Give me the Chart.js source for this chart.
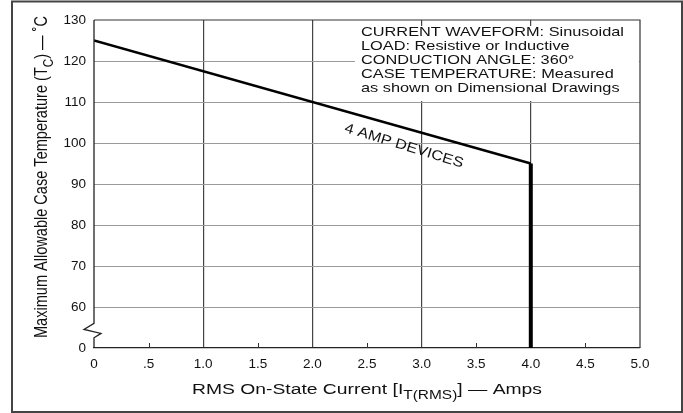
<!DOCTYPE html>
<html>
<head>
<meta charset="utf-8">
<script src="https://cdn.jsdelivr.net/npm/chart.js@4/dist/chart.umd.min.js"></script>
<style>
  body { margin: 0; background: #fff; }
  canvas { display: block; }
</style>
</head>
<body>
<canvas id="chart" width="683" height="413"></canvas>
<script>
// values
const currentTickLabels = ["0", ".5", "1.0", "1.5", "2.0", "2.5", "3.0", "3.5", "4.0", "4.5", "5.0"];
const tempTickValues = [50, 60, 70, 80, 90, 100, 110, 120, 130];
const tempTickLabels = ["0", "60", "70", "80", "90", "100", "110", "120", "130"];
// the axis is broken between 0 and 60, so the "0" row sits at 50 on the scale
const curveCurrent = [0, 4.0];
const curveTemp = [125, 95];
const dropCurrent = [4.0, 4.0];
const dropTemp = [95, 50];
const noteLines = [
  "CURRENT WAVEFORM: Sinusoidal",
  "LOAD: Resistive or Inductive",
  "CONDUCTION ANGLE: 360°",
  "CASE TEMPERATURE: Measured",
  "as shown on Dimensional Drawings"
];

const FONT = '"Liberation Sans", Arial, Helvetica, sans-serif';

function toPoints(xs, ys) {
  return xs.map((x, i) => ({ x: x, y: ys[i] }));
}

// draws text runs, some of them lowered as subscripts
function drawRuns(ctx, runs, size) {
  let x = 0;
  runs.forEach((r) => {
    const s = r.sub ? size * 0.8 : size;
    ctx.font = s + "px " + FONT;
    ctx.fillText(r.t, x, r.sub ? size * 0.3 : 0);
    x += ctx.measureText(r.t).width;
  });
  return x;
}

function runsWidth(ctx, runs, size) {
  let w = 0;
  runs.forEach((r) => {
    ctx.font = (r.sub ? size * 0.8 : size) + "px " + FONT;
    w += ctx.measureText(r.t).width;
  });
  return w;
}

const decorations = {
  id: "decorations",
  beforeDatasetsDraw(chart) {
    const ctx = chart.ctx;
    const area = chart.chartArea;
    const y = chart.scales.y;
    // white note box covering the grid
    ctx.save();
    ctx.fillStyle = "#fff";
    ctx.fillRect(355, area.top + 6, area.right - 1 - 355, y.getPixelForValue(110) - 1 - (area.top + 6));
    ctx.restore();
  },
  afterDraw(chart) {
    const ctx = chart.ctx;
    const area = chart.chartArea;
    const xs = chart.scales.x;
    const ys = chart.scales.y;
    ctx.save();

    // top and right plot borders
    ctx.strokeStyle = "#333";
    ctx.lineWidth = 1.2;
    ctx.beginPath();
    ctx.moveTo(area.left, area.top);
    ctx.lineTo(area.right, area.top);
    ctx.lineTo(area.right, area.bottom);
    ctx.stroke();

    // left axis with break between 0 and 60
    const lx = area.left;
    const gapTop = ys.getPixelForValue(56);
    const gapBottom = ys.getPixelForValue(52.5);
    ctx.strokeStyle = "#222";
    ctx.lineWidth = 1.3;
    ctx.beginPath();
    ctx.moveTo(lx, area.top);
    ctx.lineTo(lx, gapTop);
    ctx.lineTo(lx - 10, gapTop + 6);
    ctx.lineTo(lx + 7, gapTop + 10);
    ctx.lineTo(lx, gapBottom);
    ctx.lineTo(lx, area.bottom);
    ctx.stroke();

    // small inside ticks at the half amps
    ctx.strokeStyle = "#333";
    ctx.lineWidth = 1;
    [0.5, 1.5, 2.5, 3.5, 4.5].forEach((v) => {
      const px = Math.round(xs.getPixelForValue(v)) + 0.5;
      ctx.beginPath();
      ctx.moveTo(px, area.bottom);
      ctx.lineTo(px, area.bottom - 5);
      ctx.stroke();
    });

    ctx.fillStyle = "#111";
    ctx.textBaseline = "alphabetic";
    ctx.textAlign = "left";

    // y title, rotated and condensed
    const yRuns = [
      { t: "Maximum Allowable Case Temperature (T" },
      { t: "C", sub: true },
      { t: ") — ˚C" }
    ];
    const ySize = 18.5;
    const yLen = 322;
    const yw = runsWidth(ctx, yRuns, ySize);
    ctx.save();
    ctx.translate(47, 338);
    ctx.rotate(-Math.PI / 2);
    ctx.scale(yLen / yw, 1);
    drawRuns(ctx, yRuns, ySize);
    ctx.restore();

    // x title, a little wider than the stock font
    const xRuns = [
      { t: "RMS On-State Current [I" },
      { t: "T(RMS)", sub: true },
      { t: "] — Amps" }
    ];
    const xSize = 15.5;
    const xLen = 350;
    const xw = runsWidth(ctx, xRuns, xSize);
    ctx.save();
    ctx.translate(367 - xLen / 2, 394);
    ctx.scale(xLen / xw, 1);
    drawRuns(ctx, xRuns, xSize);
    ctx.restore();

    // note box text, stretched to the box width
    ctx.font = "13.5px " + FONT;
    const noteScale = 263 / ctx.measureText(noteLines[0]).width;
    ctx.save();
    ctx.translate(361, 0);
    ctx.scale(noteScale, 1);
    noteLines.forEach((line, i) => {
      ctx.fillText(line, 0, 36 + i * 13.9);
    });
    ctx.restore();

    // curve label
    ctx.save();
    ctx.translate(404, 146);
    ctx.rotate(17 * Math.PI / 180);
    ctx.scale(1.15, 1);
    ctx.font = "14px " + FONT;
    ctx.textAlign = "center";
    ctx.textBaseline = "middle";
    ctx.fillText("4 AMP DEVICES", 0, 0);
    ctx.restore();

    // outer frame
    ctx.strokeStyle = "#444";
    ctx.lineWidth = 2;
    ctx.strokeRect(12, 1.5, 670, 410.5);

    ctx.restore();
  }
};

new Chart(document.getElementById("chart").getContext("2d"), {
  type: "scatter",
  data: {
    datasets: [
      {
        data: toPoints(curveCurrent, curveTemp),
        showLine: true,
        borderColor: "#000",
        borderWidth: 2.5,
        pointRadius: 0
      },
      {
        data: toPoints(dropCurrent, dropTemp),
        showLine: true,
        borderColor: "#000",
        borderWidth: 4,
        pointRadius: 0,
        borderCapStyle: "butt"
      }
    ]
  },
  options: {
    responsive: false,
    devicePixelRatio: 1,
    animation: false,
    layout: { padding: { left: 0, top: 20, right: 43, bottom: 0 } },
    plugins: {
      legend: { display: false },
      tooltip: { enabled: false }
    },
    scales: {
      x: {
        type: "linear",
        min: 0,
        max: 5,
        afterFit: (scale) => { scale.height = 65; },
        ticks: {
          stepSize: 0.5,
          padding: 8,
          color: "#111",
          font: { family: FONT, size: 13.5 },
          callback: (value, index) => currentTickLabels[index]
        },
        grid: {
          drawTicks: false,
          lineWidth: 1.2,
          color: (c) => (c.tick && Number.isInteger(c.tick.value) && c.tick.value > 0 && c.tick.value < 5 ? "#444" : "rgba(0,0,0,0)")
        },
        border: { display: true, color: "#222", width: 1.3 }
      },
      y: {
        type: "linear",
        min: 50,
        max: 130,
        afterFit: (scale) => { scale.width = 94; },
        afterBuildTicks: (scale) => {
          scale.ticks = tempTickValues.map((v) => ({ value: v }));
        },
        ticks: {
          padding: 8,
          color: "#111",
          font: { family: FONT, size: 13.5 },
          callback: (value, index) => tempTickLabels[index]
        },
        grid: {
          drawTicks: false,
          lineWidth: 1,
          color: (c) => (c.tick && c.tick.value >= 60 && c.tick.value <= 120 ? "#9a9a9a" : "rgba(0,0,0,0)")
        },
        border: { display: false }
      }
    }
  },
  plugins: [decorations]
});
</script>
</body>
</html>
